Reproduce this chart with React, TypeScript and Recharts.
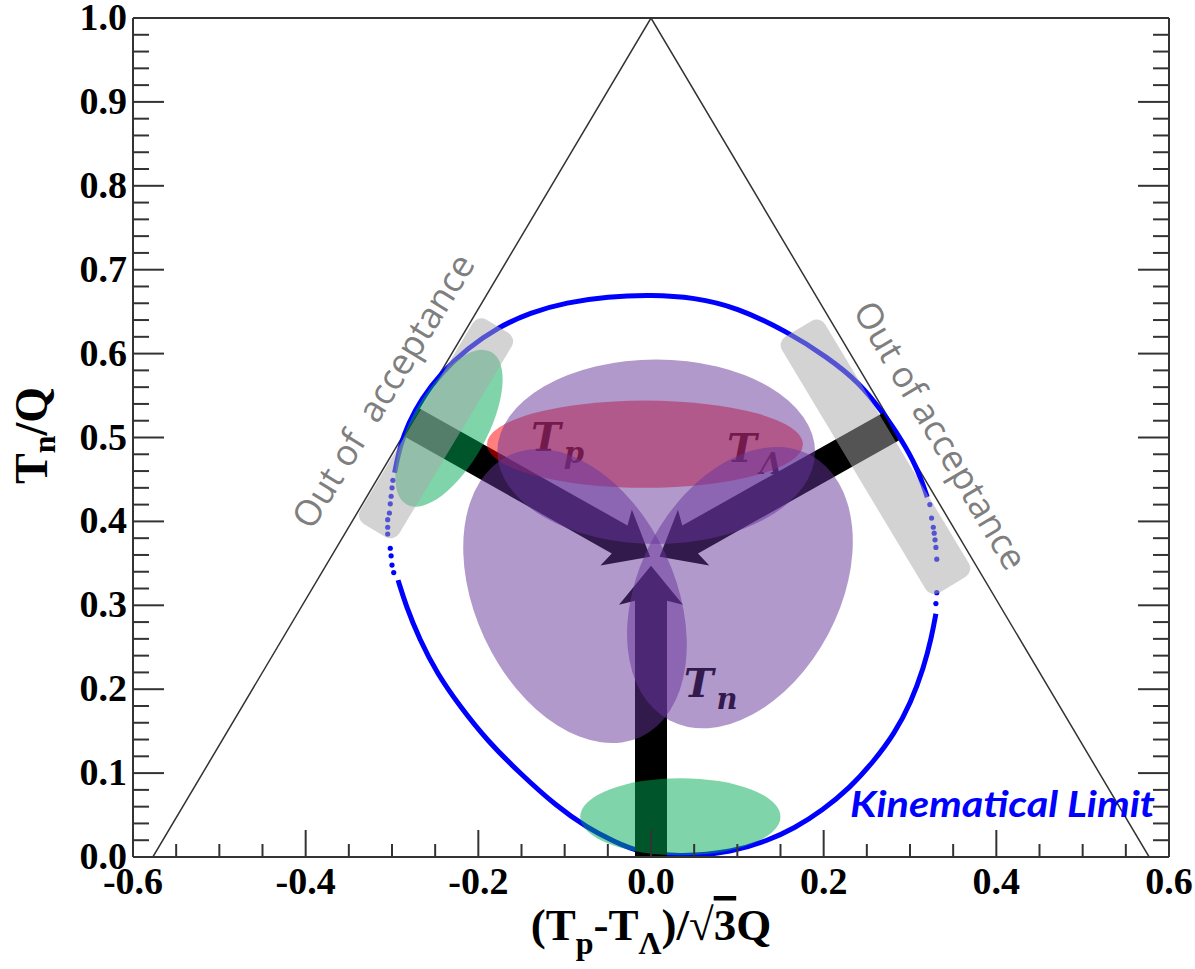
import React from 'react';
import { ComposedChart, XAxis, YAxis, Scatter, ReferenceArea, ReferenceLine, ReferenceDot } from 'recharts';

// axis ticks
const xMajorTicks = [-0.6, -0.4, -0.2, 0.0, 0.2, 0.4, 0.6];
const yMajorTicks = [0.0, 0.1, 0.2, 0.3, 0.4, 0.5, 0.6, 0.7, 0.8, 0.9, 1.0];
const xAllTicks = Array.from({ length: 25 }, (_, i) => +(-0.6 + i * 0.05).toFixed(2));
const yAllTicks = Array.from({ length: 51 }, (_, i) => +(i * 0.02).toFixed(2));

// Dalitz triangle: T_n = 0 at the base, apex at T_n = Q
const triangleVertices = [[-0.577, 0.0], [0.0, 1.0], [0.577, 0.0]];

// kinematical limit, read along the boundary
const limitUpperArc = [
  [-0.297, 0.458], [-0.291, 0.489], [-0.281, 0.517], [-0.266, 0.546], [-0.243, 0.577],
  [-0.213, 0.606], [-0.178, 0.631], [-0.140, 0.649], [-0.098, 0.661], [-0.050, 0.668],
  [0.000, 0.670], [0.050, 0.667], [0.100, 0.655], [0.158, 0.626], [0.204, 0.596],
  [0.242, 0.565], [0.269, 0.529], [0.288, 0.501], [0.308, 0.465], [0.320, 0.429],
];
const limitLowerArc = [
  [0.330, 0.290], [0.325, 0.262], [0.316, 0.226], [0.301, 0.184], [0.282, 0.147],
  [0.258, 0.114], [0.230, 0.082], [0.199, 0.056], [0.166, 0.034], [0.134, 0.019],
  [0.095, 0.006], [0.034, 0.000], [-0.013, 0.005], [-0.044, 0.019], [-0.074, 0.035],
  [-0.109, 0.060], [-0.152, 0.100], [-0.190, 0.139], [-0.221, 0.179], [-0.248, 0.219],
  [-0.268, 0.259], [-0.284, 0.300], [-0.293, 0.330],
];
const limitLeftDots = [
  [-0.299, 0.449], [-0.300, 0.440], [-0.301, 0.430], [-0.302, 0.421], [-0.303, 0.410],
  [-0.305, 0.402], [-0.305, 0.393], [-0.305, 0.385], [-0.302, 0.368], [-0.301, 0.359],
  [-0.300, 0.348], [-0.298, 0.339],
];
const limitRightDots = [
  [0.323, 0.420], [0.325, 0.404], [0.327, 0.393], [0.328, 0.386], [0.329, 0.378],
  [0.330, 0.369], [0.331, 0.355], [0.331, 0.315], [0.330, 0.302],
];

// momentum arrows (from -> to)
const arrows = [
  { name: 'p', from: [-0.277, 0.518], to: [-0.001, 0.358] },
  { name: 'L', from: [0.278, 0.513], to: [0.010, 0.358] },
  { name: 'n', from: [0.0, 0.0], to: [0.0, 0.347] },
];

// regions: centre and half extents (before tilt)
const redRegions = [{ name: 'fsi', x: -0.007, y: 0.492, dx: 0.183, dy: 0.052 }];
const purpleRegions = [
  { name: 'top', x: 0.006, y: 0.483, dx: 0.184, dy: 0.110 },
  { name: 'left', x: -0.088, y: 0.311, dx: 0.180, dy: 0.119 },
  { name: 'right', x: 0.103, y: 0.321, dx: 0.174, dy: 0.119 },
];
const greenRegions = [
  { name: 'upper', x: -0.234, y: 0.511, dx: 0.101, dy: 0.045 },
  { name: 'bottom', x: 0.034, y: 0.048, dx: 0.116, dy: 0.046 },
];
const grayRegions = [
  { name: 'left', x: -0.249, y: 0.511, dx: 0.138, dy: 0.027 },
  { name: 'right', x: 0.260, y: 0.477, dx: 0.173, dy: 0.030 },
];

const particleLabels = [
  { main: 'T', sub: 'p', x: -0.139, y: 0.484 },
  { main: 'T', sub: 'Λ', x: 0.088, y: 0.471 },
  { main: 'T', sub: 'n', x: 0.038, y: 0.191 },
];
const acceptanceLabels = [
  { name: 'left', text: 'Out of  acceptance', x: -0.311, y: 0.556 },
  { name: 'right', text: 'Out of acceptance', x: 0.336, y: 0.503 },
];
const limitLabel = { text: 'Kinematical Limit', x: 0.2305, y: 0.048 };

const tilt: Record<string, number> = {
  'purple-top': 0, 'purple-left': 65, 'purple-right': -62,
  'green-upper': -61, 'green-bottom': 0,
  'gray-left': -59, 'gray-right': 59,
  'text-left': -58.5, 'text-right': 59.5,
  'red-fsi': 0,
};

const toPoints = (arr: number[][]) => arr.map(([x, y]) => ({ x, y }));
const isMajor = (list: number[], v: number) => list.some((m) => Math.abs(m - v) < 1e-6);

const AXIS = '#333';
const SERIF = '"Liberation Serif", "Times New Roman", serif';

const BottomTick = ({ x, y, payload }: any) => {
  const major = isMajor(xMajorTicks, payload.value);
  return (
    <g>
      <line x1={x} y1={y} x2={x} y2={y - (major ? 27 : 13)} stroke={AXIS} strokeWidth={2} />
      {major && (
        <text x={x} y={y + 37} textAnchor="middle" fontFamily={SERIF} fontWeight="bold" fontSize={38} fill="#000">
          {payload.value.toFixed(1)}
        </text>
      )}
    </g>
  );
};
const TopTick = ({ x, y, payload }: any) => {
  const major = isMajor(xMajorTicks, payload.value);
  return <line x1={x} y1={y} x2={x} y2={y + (major ? 27 : 13)} stroke={AXIS} strokeWidth={2} />;
};
const LeftTick = ({ x, y, payload }: any) => {
  const major = isMajor(yMajorTicks, payload.value);
  return (
    <g>
      <line x1={x} y1={y} x2={x + (major ? 31 : 16)} y2={y} stroke={AXIS} strokeWidth={2} />
      {major && (
        <text x={x - 6} y={y + 12} textAnchor="end" fontFamily={SERIF} fontWeight="bold" fontSize={38} fill="#000">
          {payload.value.toFixed(1)}
        </text>
      )}
    </g>
  );
};
const RightTick = ({ x, y, payload }: any) => {
  const major = isMajor(yMajorTicks, payload.value);
  return <line x1={x} y1={y} x2={x - (major ? 31 : 16)} y2={y} stroke={AXIS} strokeWidth={2} />;
};

const XTitle = ({ viewBox }: any) => {
  const cx = viewBox.x + viewBox.width / 2;
  const by = viewBox.y + 83;
  return (
    <text x={cx} y={by} textAnchor="middle" fontFamily={SERIF} fontWeight="bold" fontSize={45} fill="#000">
      <tspan>(T</tspan>
      <tspan fontSize={32} dy={14}>p</tspan>
      <tspan dy={-14}>-T</tspan>
      <tspan fontSize={32} dy={14}>Λ</tspan>
      <tspan dy={-14}>)/√</tspan>
      <tspan textDecoration="overline">3</tspan>
      <tspan>Q</tspan>
    </text>
  );
};
const YTitle = ({ viewBox }: any) => {
  const bx = viewBox.x + viewBox.width - 86;
  const cy = viewBox.y + viewBox.height / 2 - 2;
  return (
    <text x={bx} y={cy} transform={`rotate(-90 ${bx} ${cy})`} textAnchor="middle" fontFamily={SERIF} fontWeight="bold" fontSize={46} fill="#000">
      <tspan>T</tspan>
      <tspan fontSize={32} dy={8}>n</tspan>
      <tspan dy={-8}>/Q</tspan>
    </text>
  );
};

const ellipseShape = (fill: string, angle: number) => (p: any) => {
  const cx = p.x + p.width / 2;
  const cy = p.y + p.height / 2;
  return <ellipse cx={cx} cy={cy} rx={p.width / 2} ry={p.height / 2} fill={fill} transform={`rotate(${angle} ${cx} ${cy})`} />;
};
const boxShape = (fill: string, angle: number) => (p: any) => {
  const cx = p.x + p.width / 2;
  const cy = p.y + p.height / 2;
  return <rect x={p.x} y={p.y} width={p.width} height={p.height} rx={10} ry={10} fill={fill} transform={`rotate(${angle} ${cx} ${cy})`} />;
};
const arrowShape = (p: any) => {
  const { x1, y1, x2, y2 } = p;
  const len = Math.hypot(x2 - x1, y2 - y1);
  const ux = (x2 - x1) / len;
  const uy = (y2 - y1) / len;
  const nx = -uy;
  const ny = ux;
  const shaft = 16;
  const headLen = 35;
  const headHalf = 32;
  const bx = x2 - ux * headLen;
  const by = y2 - uy * headLen;
  const pts = [
    [x1 + nx * shaft, y1 + ny * shaft],
    [bx + nx * shaft, by + ny * shaft],
    [bx - ux * 4 + nx * headHalf, by - uy * 4 + ny * headHalf],
    [x2, y2],
    [bx - ux * 4 - nx * headHalf, by - uy * 4 - ny * headHalf],
    [bx - nx * shaft, by - ny * shaft],
    [x1 - nx * shaft, y1 - ny * shaft],
  ];
  return <polygon points={pts.map((q) => q.join(',')).join(' ')} fill="#000" />;
};
const noDot = () => <g />;
const smallDot = (p: any) => <circle cx={p.cx} cy={p.cy} r={2.6} fill="#0000ff" />;

export default function App() {
  return (
    <div style={{ position: 'absolute', left: 0, top: 0, width: 1195, height: 969, background: '#fff' }}>
      <ComposedChart width={1195} height={969} margin={{ top: 17, right: 25, bottom: 111, left: 132 }}>
        <Scatter data={toPoints(triangleVertices)} line={{ stroke: '#333', strokeWidth: 1.5 }} lineJointType="linear"
          shape={noDot} isAnimationActive={false} zIndex={610} />
        <Scatter data={toPoints(limitUpperArc)} line={{ stroke: '#0000ff', strokeWidth: 5 }} lineJointType="basis"
          shape={noDot} isAnimationActive={false} zIndex={620} />
        <Scatter data={toPoints(limitLowerArc)} line={{ stroke: '#0000ff', strokeWidth: 5 }} lineJointType="basis"
          shape={noDot} isAnimationActive={false} zIndex={620} />
        <Scatter data={toPoints(limitLeftDots)} shape={smallDot} isAnimationActive={false} zIndex={620} />
        <Scatter data={toPoints(limitRightDots)} shape={smallDot} isAnimationActive={false} zIndex={620} />

        {arrows.map((a) => (
          <ReferenceLine key={a.name} segment={[{ x: a.from[0], y: a.from[1] }, { x: a.to[0], y: a.to[1] }]}
            ifOverflow="visible" shape={arrowShape} zIndex={630} />
        ))}

        {particleLabels.map((l) => (
          <ReferenceDot key={l.sub} x={l.x} y={l.y} r={0} ifOverflow="visible" zIndex={640}
            shape={(p: any) => (
              <text x={p.cx} y={p.cy} fontFamily='"DejaVu Serif", serif' fontWeight="bold" fontStyle="italic" fontSize={40} fill="#000">
                <tspan>{l.main}</tspan>
                <tspan fontSize={29} dy={12} dx={3}>{l.sub}</tspan>
              </text>
            )} />
        ))}

        {redRegions.map((r) => (
          <ReferenceArea key={r.name} x1={r.x - r.dx} x2={r.x + r.dx} y1={r.y - r.dy} y2={r.y + r.dy}
            shape={ellipseShape('rgba(255,0,0,0.5)', tilt['red-' + r.name])} zIndex={650} />
        ))}
        {purpleRegions.map((r) => (
          <ReferenceArea key={r.name} x1={r.x - r.dx} x2={r.x + r.dx} y1={r.y - r.dy} y2={r.y + r.dy}
            ifOverflow="visible" shape={ellipseShape('rgba(102,51,153,0.5)', tilt['purple-' + r.name])} zIndex={660} />
        ))}
        {greenRegions.map((r) => (
          <ReferenceArea key={r.name} x1={r.x - r.dx} x2={r.x + r.dx} y1={r.y - r.dy} y2={r.y + r.dy}
            ifOverflow="visible" shape={ellipseShape('rgba(0,170,85,0.5)', tilt['green-' + r.name])} zIndex={670} />
        ))}
        {grayRegions.map((r) => (
          <ReferenceArea key={r.name} x1={r.x - r.dx} x2={r.x + r.dx} y1={r.y - r.dy} y2={r.y + r.dy}
            ifOverflow="visible" shape={boxShape('rgba(168,168,168,0.5)', tilt['gray-' + r.name])} zIndex={680} />
        ))}

        {acceptanceLabels.map((l) => (
          <ReferenceDot key={l.name} x={l.x} y={l.y} r={0} ifOverflow="visible" zIndex={690}
            shape={(p: any) => (
              <text x={p.cx} y={p.cy} textAnchor="middle" dominantBaseline="central" style={{ whiteSpace: 'pre' }}
                transform={`rotate(${tilt['text-' + l.name]} ${p.cx} ${p.cy})`}
                fontFamily='"Open Sans", sans-serif' fontSize={36} fill="#7f7f7f">
                {l.text}
              </text>
            )} />
        ))}
        <ReferenceDot x={limitLabel.x} y={limitLabel.y} r={0} ifOverflow="visible" zIndex={700}
          shape={(p: any) => (
            <text x={p.cx} y={p.cy} fontFamily='Lato, sans-serif' fontWeight="bold" fontStyle="italic" fontSize={37}
              fill="#0000ff" textLength={305} lengthAdjust="spacingAndGlyphs">
              {limitLabel.text}
            </text>
          )} />

        <XAxis type="number" dataKey="x" domain={[-0.6, 0.6]} allowDataOverflow ticks={xAllTicks} interval={0}
          tickSize={0} tickMargin={0} tickLine={false} tick={BottomTick} height={1}
          axisLine={{ stroke: AXIS, strokeWidth: 2 }} label={{ content: XTitle }} zIndex={900} />
        <XAxis xAxisId="top" orientation="top" type="number" domain={[-0.6, 0.6]} allowDataOverflow ticks={xAllTicks}
          interval={0} tickSize={0} tickMargin={0} tickLine={false} tick={TopTick} height={1}
          axisLine={{ stroke: AXIS, strokeWidth: 2 }} zIndex={900} />
        <YAxis type="number" dataKey="y" domain={[0, 1]} allowDataOverflow ticks={yAllTicks} interval={0}
          tickSize={0} tickMargin={0} tickLine={false} tick={LeftTick} width={1}
          axisLine={{ stroke: AXIS, strokeWidth: 2 }} label={{ content: YTitle }} zIndex={900} />
        <YAxis yAxisId="right" orientation="right" type="number" domain={[0, 1]} allowDataOverflow ticks={yAllTicks}
          interval={0} tickSize={0} tickMargin={0} tickLine={false} tick={RightTick} width={1}
          axisLine={{ stroke: AXIS, strokeWidth: 2 }} zIndex={900} />
      </ComposedChart>
    </div>
  );
}
